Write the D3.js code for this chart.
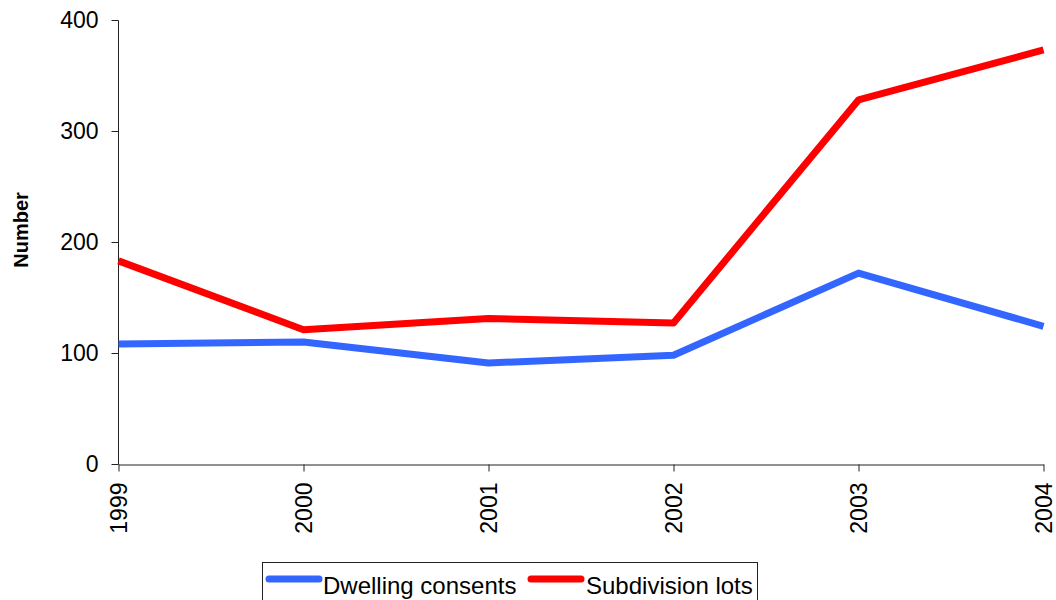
<!DOCTYPE html>
<html>
<head>
<meta charset="utf-8">
<script src="https://cdn.jsdelivr.net/npm/d3@7"></script>
<style>
  html, body { margin: 0; padding: 0; background: #fff; }
  svg { display: block; font-family: "Liberation Sans", Arial, sans-serif; }
</style>
</head>
<body>
<svg id="chart" width="1056" height="600"></svg>
<script>
// Yearly counts
const years = ["1999", "2000", "2001", "2002", "2003", "2004"];
const dwellingConsents = [108, 110, 91, 98, 172, 124];
const subdivisionLots = [183, 121, 131, 127, 328, 373];
const yTicks = [0, 100, 200, 300, 400];

const series = [
  { name: "Dwelling consents", values: dwellingConsents, color: "#3366FF" },
  { name: "Subdivision lots", values: subdivisionLots, color: "#FF0000" }
];

const svg = d3.select("#chart");

const x = d3.scalePoint().domain(years).range([118.5, 1043.5]);
const y = d3.scaleLinear().domain([0, 400]).range([464, 20]);

// Y axis
const yAxis = svg.append("g")
  .attr("transform", "translate(118.5,0)")
  .call(d3.axisLeft(y).tickValues(yTicks).tickSize(7).tickPadding(13));
yAxis.select(".domain").attr("stroke", "#222").attr("d", "M0,20.5V464.5");
yAxis.selectAll(".tick line").attr("stroke", "#222");
yAxis.selectAll(".tick text")
  .attr("font-size", 23).attr("fill", "#000")
  .attr("font-family", "'Liberation Sans', Arial, sans-serif");

// X axis with vertical year labels
const xAxis = svg.append("g")
  .attr("transform", "translate(0,464.5)")
  .call(d3.axisBottom(x).tickSize(7).tickSizeOuter(0));
xAxis.select(".domain").attr("stroke", "#222");
xAxis.selectAll(".tick line").attr("stroke", "#222");
xAxis.selectAll(".tick text")
  .attr("font-size", 23).attr("fill", "#000")
  .attr("font-family", "'Liberation Sans', Arial, sans-serif")
  .attr("transform", "rotate(-90)")
  .attr("text-anchor", "end")
  .attr("x", -18)
  .attr("y", 0)
  .attr("dy", "0.35em");

// Axis title
svg.append("text")
  .attr("transform", "translate(28,230) rotate(-90)")
  .attr("text-anchor", "middle")
  .attr("font-size", 20)
  .attr("font-weight", "bold")
  .text("Number");

// Series lines
const line = d3.line()
  .x((d, i) => x(years[i]))
  .y(d => y(d));

svg.selectAll("path.series")
  .data(series)
  .join("path")
  .attr("class", "series")
  .attr("fill", "none")
  .attr("stroke", d => d.color)
  .attr("stroke-width", 7)
  .attr("stroke-linejoin", "round")
  .attr("d", d => line(d.values));

// Legend
const legend = svg.append("g");
legend.append("rect")
  .attr("x", 262.5).attr("y", 562.5)
  .attr("width", 495).attr("height", 50)
  .attr("fill", "#fff").attr("stroke", "#222").attr("stroke-width", 1);

const legendPos = [{ lx: 269, tx: 323 }, { lx: 531, tx: 586 }];
series.forEach((s, i) => {
  const p = legendPos[i];
  legend.append("line")
    .attr("x1", p.lx).attr("x2", p.lx + 50)
    .attr("y1", 579).attr("y2", 579)
    .attr("stroke", s.color).attr("stroke-width", 7)
    .attr("stroke-linecap", "round");
  legend.append("text")
    .attr("x", p.tx).attr("y", 594)
    .attr("font-size", 24)
    .text(s.name);
});
</script>
</body>
</html>
